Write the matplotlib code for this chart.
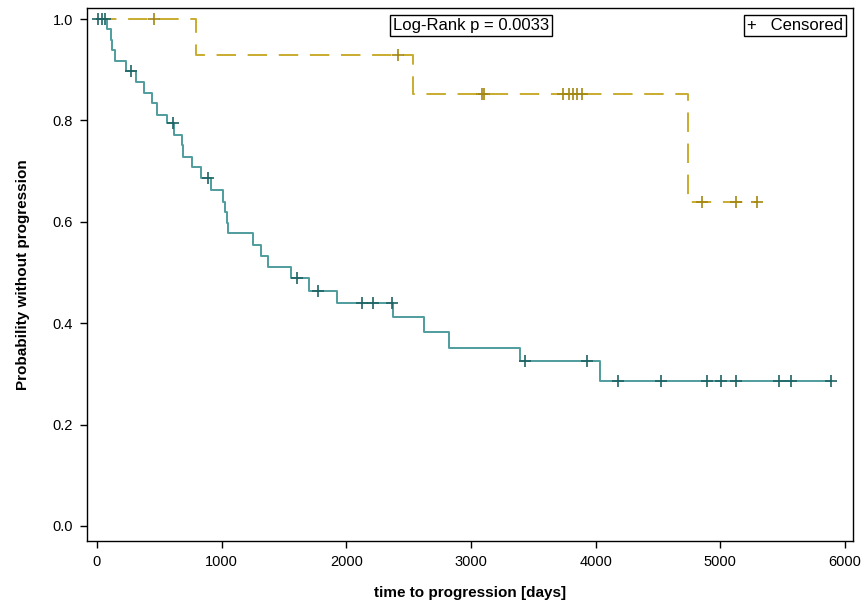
import numpy as np
import matplotlib
matplotlib.use('Agg')
import matplotlib.pyplot as plt

plt.rcParams.update({
    'font.family': ['Liberation Sans Narrow', 'Liberation Sans', 'DejaVu Sans'],
    'font.size': 10,
})

# group 1 (teal): event times [days] and survival after each event
t1_event = [80, 110, 124, 142, 235, 315, 377, 444, 481, 564, 618, 679, 686, 760,
            834, 912, 1013, 1027, 1039, 1053, 1254, 1313, 1369, 1556, 1703, 1923,
            2377, 2623, 2824, 3393, 4035]
s1_event = [0.980, 0.959, 0.938, 0.917, 0.897, 0.876, 0.855, 0.835, 0.810, 0.794,
            0.771, 0.752, 0.728, 0.709, 0.686, 0.663, 0.640, 0.620, 0.597, 0.577,
            0.554, 0.533, 0.510, 0.489, 0.464, 0.439, 0.412, 0.382, 0.352, 0.325,
            0.286]
t1_cens = [8, 43, 62, 275, 610, 888, 1602, 1775, 2123, 2211, 2370, 3433, 3934,
           4183, 4524, 4891, 5003, 5126, 5468, 5564, 5888]

# group 2 (gold)
t2_event = [797, 2532, 4743]
s2_event = [0.929, 0.853, 0.640]
t2_cens = [457, 2417, 3092, 3106, 3735, 3789, 3816, 3848, 3888, 4851, 5126, 5296]

p_text = 'Log-Rank p = 0.0033'

fig = plt.figure(figsize=(8.63, 6.04), dpi=100)
ax = fig.add_axes([87/863, 63/604, 766/863, 533/604])


def km_curve(te, se, tc):
    t = np.r_[0, te, max(tc)]
    s = np.r_[1.0, se, se[-1]]
    idx = np.searchsorted(np.asarray(te), tc, side='right')
    sc = np.r_[1.0, se][idx]
    return t, s, sc


groups = [
    (t1_event, s1_event, t1_cens, '#4f9d9d', '#1f6363', '-'),
    (t2_event, s2_event, t2_cens, '#c9ab2e', '#a38710', (0, (10, 6))),
]
for te, se, tc, lc, mc, ls in groups:
    t, s, sc = km_curve(te, se, tc)
    ax.step(t, s, where='post', color=lc, lw=1.4, ls=ls, zorder=2)
    ax.plot(tc, sc, ls='none', marker='+', ms=8, mew=1.2, color=mc, zorder=3)

ax.set_xlim(-80, 6064)
ax.set_ylim(-0.0296, 1.0217)
ax.set_xticks(np.arange(0, 6001, 1000))
ax.set_yticks(np.arange(0, 1.01, 0.2))
ax.set_yticklabels([f'{v:.1f}' for v in np.arange(0, 1.01, 0.2)])
ax.tick_params(direction='out', length=5, width=1, labelsize=10.5, pad=5)
for sp in ax.spines.values():
    sp.set_linewidth(1.0)

ax.set_xlabel('time to progression [days]', fontweight='bold', fontsize=11,
              family=['Liberation Sans', 'DejaVu Sans'], labelpad=12)
ax.set_ylabel('Probability without progression', fontweight='bold', fontsize=11,
              family=['Liberation Sans', 'DejaVu Sans'], labelpad=16)

ax.text(0.3995, 0.981, p_text, transform=ax.transAxes, ha='left', va='top',
        fontsize=12, family=['Liberation Sans', 'DejaVu Sans'],
        bbox=dict(boxstyle='square,pad=0.2', fc='white', ec='black', lw=1.0))
ax.text(0.987, 0.981, '+   Censored', transform=ax.transAxes, ha='right', va='top',
        fontsize=12, family=['Liberation Sans', 'DejaVu Sans'],
        bbox=dict(boxstyle='square,pad=0.2', fc='white', ec='black', lw=1.0))

fig.savefig('out.png', dpi=100)
